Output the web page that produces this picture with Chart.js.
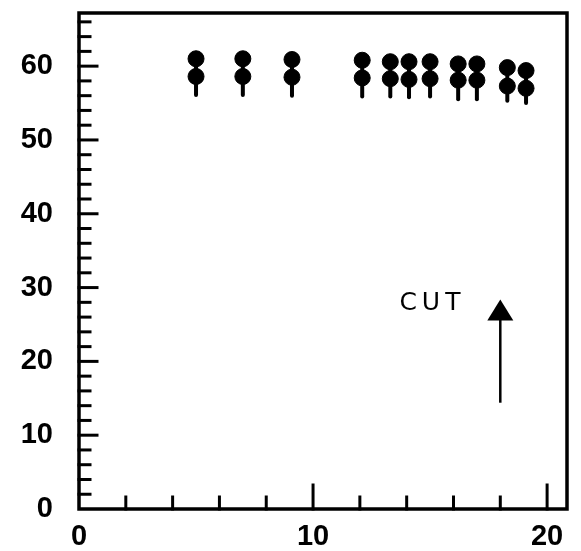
<!DOCTYPE html>
<html>
<head>
<meta charset="utf-8">
<script src="https://cdn.jsdelivr.net/npm/chart.js@4.4.1/dist/chart.umd.min.js"></script>
<style>
  html, body { margin: 0; padding: 0; background: #fff; }
  #wrap { width: 581px; height: 551px; }
</style>
</head>
<body>
<div id="wrap"><canvas id="chart"></canvas></div>
<script>
// measurements
const xValues   = [5.0, 7.0, 9.1, 12.1, 13.3, 14.1, 15.0, 16.2, 17.0, 18.3, 19.1];
const upperVals = [61.0, 61.0, 60.9, 60.8, 60.6, 60.6, 60.6, 60.3, 60.3, 59.8, 59.4];
const lowerVals = [58.6, 58.6, 58.5, 58.4, 58.3, 58.2, 58.3, 58.1, 58.1, 57.3, 57.0];
const lowerErr  = [2.5, 2.5, 2.5, 2.5, 2.4, 2.4, 2.4, 2.6, 2.6, 2.0, 2.0];

// axis ranges and ticks
const xMax = 20.85;
const yMax = 67.2;
const xTickLabels = [0, 10, 20];
const yTickLabels = [0, 10, 20, 30, 40, 50, 60];
const xMinorStep = 2;
const yMinorStep = 2;
const majorStep = 10;

// the cut marker
const cutLabel = 'CUT';
const cutLabelPos = [15.1, 27.9];
const cutArrowX = 18.0;
const cutArrowFrom = 14.4;
const cutArrowTo = 28.4;

const ctxEl = document.getElementById('chart');

const frameAndTicks = {
  id: 'frameAndTicks',
  beforeDatasetsDraw(chart) {
    // error bars on the lower points
    const ctx = chart.ctx;
    const xs = chart.scales.x, ys = chart.scales.y;
    ctx.save();
    ctx.strokeStyle = '#000';
    ctx.lineWidth = 4;
    ctx.lineCap = 'round';
    for (let i = 0; i < xValues.length; i++) {
      const px = xs.getPixelForValue(xValues[i]);
      ctx.beginPath();
      ctx.moveTo(px, ys.getPixelForValue(lowerVals[i] + lowerErr[i]));
      ctx.lineTo(px, ys.getPixelForValue(lowerVals[i] - lowerErr[i]));
      ctx.stroke();
    }
    ctx.restore();
  },
  afterDraw(chart) {
    const ctx = chart.ctx;
    const a = chart.chartArea;
    const xs = chart.scales.x, ys = chart.scales.y;
    ctx.save();
    ctx.strokeStyle = '#000';
    ctx.lineWidth = 3.5;
    ctx.lineCap = 'square';
    ctx.strokeRect(a.left, a.top, a.right - a.left, a.bottom - a.top);

    ctx.lineWidth = 3;
    // x ticks, pointing up from the bottom
    for (let v = xMinorStep; v <= xMax; v += xMinorStep) {
      const px = xs.getPixelForValue(v);
      const len = (v % majorStep === 0) ? 24 : 12;
      ctx.beginPath();
      ctx.moveTo(px, a.bottom);
      ctx.lineTo(px, a.bottom - len);
      ctx.stroke();
    }
    // y ticks, pointing right from the left edge
    for (let v = yMinorStep; v <= yMax; v += yMinorStep) {
      const py = ys.getPixelForValue(v);
      const len = (v % majorStep === 0) ? 18 : 11;
      ctx.beginPath();
      ctx.moveTo(a.left, py);
      ctx.lineTo(a.left + len, py);
      ctx.stroke();
    }

    // cut arrow
    const ax = xs.getPixelForValue(cutArrowX);
    const yFrom = ys.getPixelForValue(cutArrowFrom);
    const yTip = ys.getPixelForValue(cutArrowTo);
    ctx.lineWidth = 2.5;
    ctx.lineCap = 'butt';
    ctx.beginPath();
    ctx.moveTo(ax, yFrom);
    ctx.lineTo(ax, yTip + 15);
    ctx.stroke();
    ctx.fillStyle = '#000';
    ctx.beginPath();
    ctx.moveTo(ax, yTip);
    ctx.lineTo(ax - 13, yTip + 21);
    ctx.lineTo(ax + 13, yTip + 21);
    ctx.closePath();
    ctx.fill();

    ctx.font = '25px "DejaVu Sans"';
    ctx.letterSpacing = '5px';
    ctx.textAlign = 'center';
    ctx.textBaseline = 'middle';
    ctx.fillText(cutLabel, xs.getPixelForValue(cutLabelPos[0]), ys.getPixelForValue(cutLabelPos[1]));
    ctx.restore();
  }
};

const tickFont = { family: '"Liberation Sans", Arial, sans-serif', size: 29, weight: 'bold' };

new Chart(ctxEl, {
  type: 'scatter',
  data: {
    datasets: [
      {
        data: xValues.map((x, i) => ({ x: x, y: upperVals[i] })),
        backgroundColor: '#000',
        borderColor: '#000',
        pointRadius: 8
      },
      {
        data: xValues.map((x, i) => ({ x: x, y: lowerVals[i] })),
        backgroundColor: '#000',
        borderColor: '#000',
        pointRadius: 8
      }
    ]
  },
  options: {
    responsive: true,
    maintainAspectRatio: false,
    animation: false,
    layout: { padding: { top: 13, right: 14, left: 0, bottom: 0 } },
    plugins: {
      legend: { display: false },
      tooltip: { enabled: false }
    },
    scales: {
      x: {
        type: 'linear',
        min: 0,
        max: xMax,
        grid: { display: false, drawTicks: false },
        border: { display: false },
        afterBuildTicks: scale => { scale.ticks = xTickLabels.map(v => ({ value: v })); },
        ticks: {
          autoSkip: false,
          maxRotation: 0,
          padding: 11,
          color: '#000',
          font: tickFont
        },
        afterFit: scale => {
          scale.height = 42;
          scale.paddingLeft = 0;
          scale.paddingRight = 0;
        }
      },
      y: {
        min: 0,
        max: yMax,
        grid: { display: false, drawTicks: false },
        border: { display: false },
        afterBuildTicks: scale => { scale.ticks = yTickLabels.map(v => ({ value: v })); },
        ticks: {
          autoSkip: false,
          padding: 26,
          color: '#000',
          font: tickFont
        },
        afterFit: scale => {
          scale.width = 79;
          scale.paddingTop = 0;
          scale.paddingBottom = 0;
        }
      }
    }
  },
  plugins: [frameAndTicks]
});
</script>
</body>
</html>
